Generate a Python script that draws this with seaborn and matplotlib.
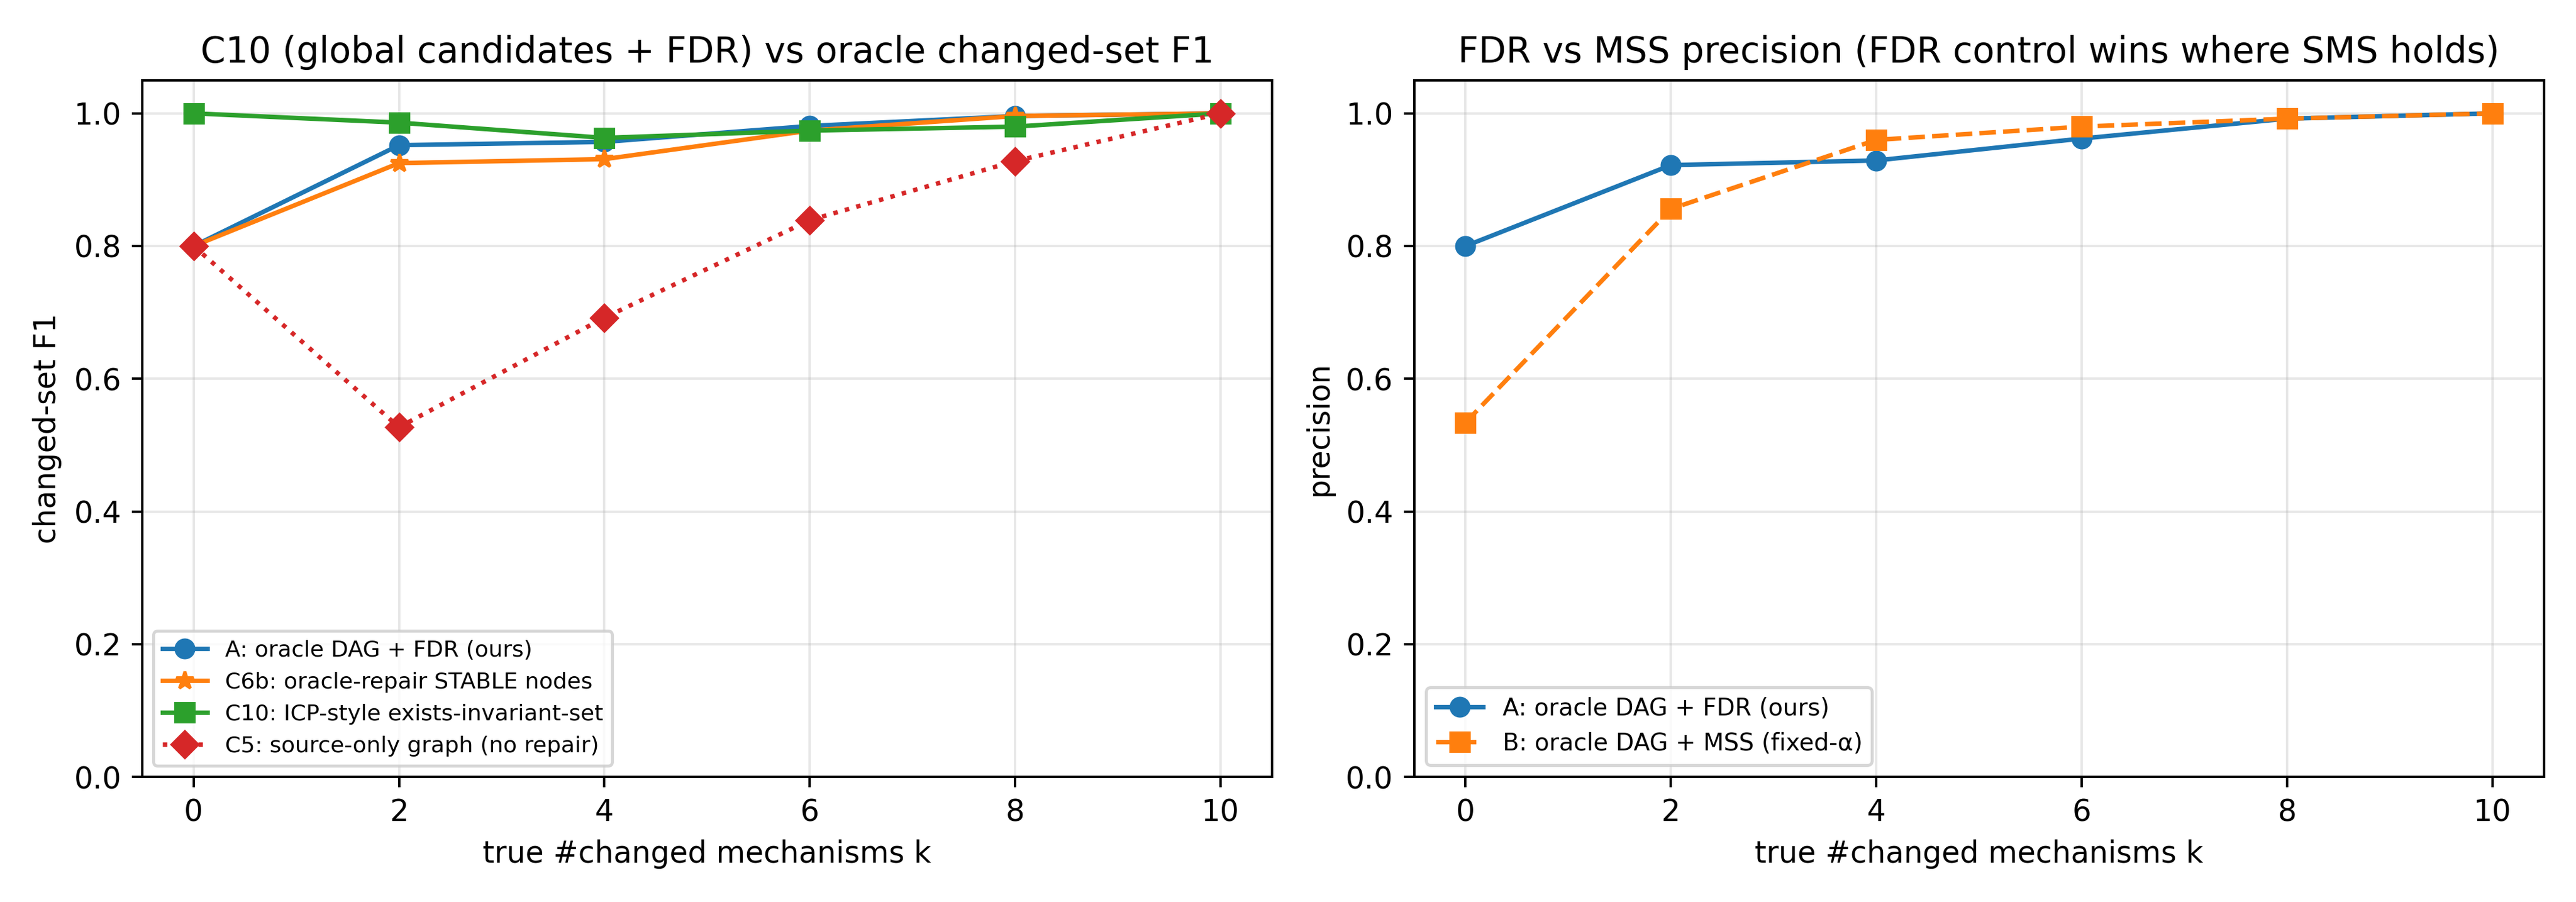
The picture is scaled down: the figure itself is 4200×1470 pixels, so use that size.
import matplotlib
matplotlib.use("Agg")
import seaborn as sns
from matplotlib import pyplot as plt

# true number of changed mechanisms
k = [0, 2, 4, 6, 8, 10]

# left panel: changed-set F1
f1_a_fdr = [0.800, 0.952, 0.957, 0.981, 0.996, 1.000]
f1_c6b = [0.800, 0.925, 0.931, 0.974, 0.996, 1.000]
f1_c10 = [1.000, 0.986, 0.963, 0.974, 0.980, 1.000]
f1_c5 = [0.800, 0.527, 0.692, 0.839, 0.928, 1.000]

# right panel: precision
prec_a_fdr = [0.800, 0.922, 0.929, 0.962, 0.992, 1.000]
prec_b_mss = [0.534, 0.856, 0.960, 0.980, 0.992, 1.000]


def draw(ax, y, marker, color, label, ls="-"):
    sns.lineplot(x=k, y=y, marker=marker, color=color, linewidth=1.5, markersize=6,
                 markeredgecolor=color, markeredgewidth=1, linestyle=ls, label=label, ax=ax)


fig, (ax1, ax2) = plt.subplots(1, 2, figsize=(12, 4.2))

draw(ax1, f1_a_fdr, "o", "#1f77b4", "A: oracle DAG + FDR (ours)")
draw(ax1, f1_c6b, "*", "#ff7f0e", "C6b: oracle-repair STABLE nodes")
draw(ax1, f1_c10, "s", "#2ca02c", "C10: ICP-style exists-invariant-set")
draw(ax1, f1_c5, "D", "#d62728", "C5: source-only graph (no repair)", ls=":")

ax1.set_title("C10 (global candidates + FDR) vs oracle changed-set F1")
ax1.set_xlabel("true #changed mechanisms k")
ax1.set_ylabel("changed-set F1")
ax1.set_ylim(0, 1.05)
ax1.grid(alpha=0.3)
ax1.legend(loc="lower left", fontsize=7.5)

draw(ax2, prec_a_fdr, "o", "#1f77b4", "A: oracle DAG + FDR (ours)")
draw(ax2, prec_b_mss, "s", "#ff7f0e", "B: oracle DAG + MSS (fixed-α)", ls="--")

ax2.set_title("FDR vs MSS precision (FDR control wins where SMS holds)")
ax2.set_xlabel("true #changed mechanisms k")
ax2.set_ylabel("precision")
ax2.set_ylim(0, 1.05)
ax2.grid(alpha=0.3)
ax2.legend(loc="lower left", fontsize=8)

plt.tight_layout()
plt.savefig("out.png", dpi=350)
